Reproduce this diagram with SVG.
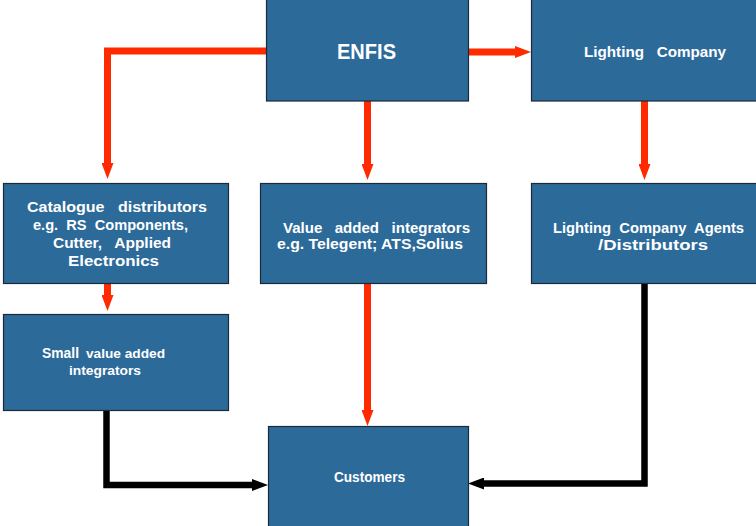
<svg xmlns="http://www.w3.org/2000/svg" width="756" height="526" viewBox="0 0 756 526">
<style>
.box{fill:#2c6a9a;stroke:#1c2a38;stroke-width:1.2}
.t{fill:#fff;font-family:"Liberation Sans",Arial,sans-serif;font-weight:bold;white-space:pre}
.red{fill:none;stroke:#ff2a00;stroke-width:7;stroke-linejoin:miter}
.blk{fill:none;stroke:#000;stroke-width:6.5;stroke-linejoin:miter}
</style>
<defs>
<marker id="ar" markerUnits="userSpaceOnUse" viewBox="0 0 16 12" refX="6" refY="6" markerWidth="16" markerHeight="12" orient="auto">
<path d="M0,0 L16,6 L0,12 Z" fill="#ff2a00"/>
</marker>
<marker id="ab" markerUnits="userSpaceOnUse" viewBox="0 0 16 12" refX="6" refY="6" markerWidth="16" markerHeight="12" orient="auto">
<path d="M0,0 L16,6 L0,12 Z" fill="#000"/>
</marker>
</defs>
<rect width="756" height="526" fill="#fff"/>
<g id="connectors">
<path class="red" d="M267,51 H107.5 V169" marker-end="url(#ar)"/>
<path class="red" d="M367.5,101 V170" marker-end="url(#ar)"/>
<path class="red" d="M469,52 H521" marker-end="url(#ar)"/>
<path class="red" d="M644.5,101 V170" marker-end="url(#ar)"/>
<path class="red" d="M107.5,284 V301" marker-end="url(#ar)"/>
<path class="red" d="M367.5,284 V416" marker-end="url(#ar)"/>
<path class="blk" d="M106.5,411 V485 H258" marker-end="url(#ab)"/>
<path class="blk" d="M644.5,284 V483.5 H478" marker-end="url(#ab)"/>
</g>
<g id="enfis">
<rect class="box" x="266.5" y="-1" width="202" height="102"/>
<text class="t" x="337" y="59" font-size="22" textLength="59" lengthAdjust="spacingAndGlyphs">ENFIS</text>
</g>
<g id="lighting-company">
<rect class="box" x="531.5" y="-1" width="230" height="102"/>
<text class="t" x="584" y="57" font-size="15" textLength="142" lengthAdjust="spacingAndGlyphs">Lighting   Company</text>
</g>
<g id="catalogue">
<rect class="box" x="3.5" y="183.5" width="225" height="100"/>
<text class="t" font-size="14">
<tspan x="27" y="212" textLength="180" lengthAdjust="spacingAndGlyphs">Catalogue   distributors</tspan>
<tspan x="33" y="230" textLength="155" lengthAdjust="spacingAndGlyphs">e.g.  RS  Components,</tspan>
<tspan x="53" y="248" textLength="118" lengthAdjust="spacingAndGlyphs">Cutter,   Applied</tspan>
<tspan x="68" y="265.5" textLength="91" lengthAdjust="spacingAndGlyphs">Electronics</tspan>
</text>
</g>
<g id="value-added">
<rect class="box" x="260.5" y="183.5" width="226" height="100"/>
<text class="t" font-size="14">
<tspan x="283" y="233" textLength="187" lengthAdjust="spacingAndGlyphs">Value   added   integrators</tspan>
<tspan x="277" y="249" textLength="186" lengthAdjust="spacingAndGlyphs">e.g. Telegent; ATS,Solius</tspan>
</text>
</g>
<g id="agents">
<rect class="box" x="531.5" y="183.5" width="230" height="100"/>
<text class="t" font-size="14">
<tspan x="553" y="233" textLength="191" lengthAdjust="spacingAndGlyphs">Lighting  Company  Agents</tspan>
<tspan x="598" y="250" textLength="110" lengthAdjust="spacingAndGlyphs">/Distributors</tspan>
</text>
</g>
<g id="small-integrators">
<rect class="box" x="3.5" y="314.5" width="225" height="96"/>
<text class="t" x="42" y="358" font-size="14.5" textLength="37" lengthAdjust="spacingAndGlyphs">Small</text>
<text class="t" x="86" y="358" font-size="12.5" font-weight="normal" textLength="79" lengthAdjust="spacingAndGlyphs">value added</text>
<text class="t" x="69" y="375" font-size="13" textLength="72" lengthAdjust="spacingAndGlyphs">integrators</text>
</g>
<g id="customers">
<rect class="box" x="268.5" y="426.5" width="200" height="101"/>
<text class="t" x="334" y="482" font-size="14" textLength="71" lengthAdjust="spacingAndGlyphs">Customers</text>
</g>
</svg>
